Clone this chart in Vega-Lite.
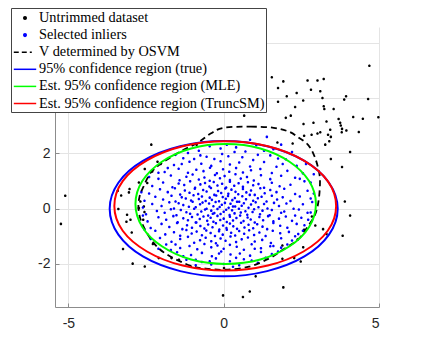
{
"$schema":"https://vega.github.io/schema/vega-lite/v6.json",
"width":324,"height":280,
"autosize":{"type":"none"},
"padding":{"left":55,"top":27,"right":44,"bottom":38},
"background":"white",
"config":{"view":{"stroke":null},"axis":{"labelFont":"Liberation Sans","labelFontSize":14,"labelColor":"#262626","gridColor":"#e4e4e4","gridWidth":1,"domainColor":"#8c8c8c","domainWidth":1,"tickColor":"#8c8c8c","title":null},
"legend":{"orient":"none","legendX":-44,"legendY":-19,"symbolSize":256,"symbolOffset":4,"labelOffset":5,"padding":1,"rowPadding":0.1,"fillColor":"white","strokeColor":"#444444","labelFont":"Liberation Serif","labelFontSize":14.3,"labelColor":"black","labelLimit":0}},
"datasets":{
"pts":[
{"x":-5.10,"y":0.47,"s":"u"},{"x":-5.24,"y":-0.55,"s":"u"},{"x":-3.41,"y":0.65,"s":"u"},{"x":-3.30,"y":0.48,"s":"u"},{"x":-3.03,"y":0.71,"s":"u"},{"x":-3.05,"y":0.59,"s":"u"},{"x":-3.39,"y":-0.01,"s":"u"},{"x":-3.11,"y":-0.22,"s":"u"},{"x":-3.00,"y":-0.40,"s":"u"},{"x":-3.13,"y":-0.47,"s":"u"},{"x":-2.96,"y":-0.86,"s":"u"},{"x":-3.24,"y":-1.46,"s":"u"},{"x":-2.93,"y":-1.99,"s":"u"},{"x":-2.73,"y":0.95,"s":"u"},{"x":-2.33,"y":2.32,"s":"u"},{"x":-2.03,"y":1.62,"s":"u"},{"x":-2.13,"y":1.70,"s":"u"},{"x":-2.30,"y":1.35,"s":"u"},{"x":-2.54,"y":1.44,"s":"u"},{"x":-2.46,"y":0.93,"s":"u"},{"x":-0.87,"y":2.32,"s":"u"},{"x":-2.68,"y":0.26,"s":"u"},{"x":-2.57,"y":0.08,"s":"u"},{"x":-2.54,"y":-2.09,"s":"u"},{"x":-2.73,"y":0.02,"s":"u"},{"x":-2.55,"y":-0.12,"s":"u"},{"x":-2.59,"y":-0.40,"s":"u"},{"x":-2.28,"y":-1.28,"s":"u"},{"x":-2.09,"y":-1.79,"s":"u"},{"x":-1.68,"y":-1.79,"s":"u"},{"x":-1.44,"y":-1.85,"s":"u"},{"x":-1.06,"y":-2.09,"s":"u"},
{"x":0.01,"y":-2.15,"s":"u"},{"x":1.03,"y":-2.45,"s":"u"},{"x":1.89,"y":-1.81,"s":"u"},{"x":2.27,"y":-1.79,"s":"u"},{"x":2.48,"y":-1.91,"s":"u"},{"x":2.56,"y":-1.40,"s":"u"},{"x":1.89,"y":-1.33,"s":"u"},{"x":2.95,"y":-0.61,"s":"u"},{"x":3.20,"y":-0.74,"s":"u"},{"x":3.31,"y":-0.92,"s":"u"},{"x":2.84,"y":-0.28,"s":"u"},{"x":2.59,"y":-0.76,"s":"u"},{"x":2.38,"y":-1.12,"s":"u"},{"x":-0.02,"y":-3.14,"s":"u"},{"x":0.62,"y":-3.20,"s":"u"},{"x":0.84,"y":-3.00,"s":"u"},{"x":1.92,"y":-2.85,"s":"u"},{"x":3.83,"y":-0.98,"s":"u"},{"x":4.07,"y":-0.25,"s":"u"},{"x":3.90,"y":0.26,"s":"u"},{"x":3.81,"y":1.51,"s":"u"},{"x":3.45,"y":1.80,"s":"u"},{"x":4.07,"y":2.05,"s":"u"},
{"x":4.69,"y":5.18,"s":"u"},{"x":3.22,"y":4.70,"s":"u"},{"x":3.02,"y":4.64,"s":"u"},{"x":2.70,"y":4.64,"s":"u"},{"x":2.81,"y":4.31,"s":"u"},{"x":3.11,"y":4.25,"s":"u"},{"x":2.35,"y":4.19,"s":"u"},{"x":1.92,"y":4.61,"s":"u"},{"x":2.03,"y":4.07,"s":"u"},{"x":3.18,"y":4.01,"s":"u"},{"x":3.94,"y":4.07,"s":"u"},{"x":3.88,"y":3.95,"s":"u"},{"x":4.65,"y":3.97,"s":"u"},{"x":2.56,"y":3.92,"s":"u"},{"x":2.30,"y":3.68,"s":"u"},{"x":3.22,"y":3.71,"s":"u"},{"x":3.24,"y":3.61,"s":"u"},{"x":3.54,"y":3.61,"s":"u"},{"x":2.16,"y":3.37,"s":"u"},{"x":2.00,"y":3.29,"s":"u"},{"x":4.98,"y":3.31,"s":"u"},{"x":4.17,"y":3.32,"s":"u"},{"x":4.48,"y":3.26,"s":"u"},{"x":3.70,"y":3.25,"s":"u"},{"x":3.75,"y":3.11,"s":"u"},{"x":3.77,"y":3.01,"s":"u"},{"x":3.81,"y":2.89,"s":"u"},{"x":3.95,"y":2.83,"s":"u"},{"x":3.80,"y":2.77,"s":"u"},{"x":4.35,"y":2.78,"s":"u"},{"x":3.31,"y":3.16,"s":"u"},{"x":2.89,"y":3.11,"s":"u"},{"x":2.57,"y":3.07,"s":"u"},{"x":3.11,"y":2.77,"s":"u"},{"x":3.02,"y":2.72,"s":"u"},{"x":2.83,"y":2.68,"s":"u"},{"x":2.59,"y":2.64,"s":"u"},{"x":3.36,"y":2.68,"s":"u"},{"x":3.45,"y":2.60,"s":"u"},{"x":3.40,"y":2.44,"s":"u"},{"x":3.27,"y":2.32,"s":"u"},{"x":2.22,"y":2.36,"s":"u"},{"x":1.55,"y":4.76,"s":"u"},{"x":1.75,"y":4.37,"s":"u"},{"x":1.75,"y":3.87,"s":"u"},{"x":3.43,"y":2.86,"s":"u"},{"x":0.66,"y":3.37,"s":"u"},{"x":1.73,"y":2.40,"s":"u"},
{"x":-2.6,"y":0.04,"s":"i"},{"x":-2.3,"y":0.17,"s":"i"},{"x":-2.0,"y":0.1,"s":"i"},{"x":-1.75,"y":0.23,"s":"i"},{"x":-1.6,"y":0.01,"s":"i"},{"x":-1.45,"y":0.2,"s":"i"},{"x":-1.3,"y":0.13,"s":"i"},{"x":-1.12,"y":0.07,"s":"i"},{"x":-1.0,"y":0.25,"s":"i"},{"x":-0.9,"y":0.05,"s":"i"},{"x":-0.76,"y":0.16,"s":"i"},{"x":-0.68,"y":0.22,"s":"i"},{"x":-0.55,"y":0.0,"s":"i"},{"x":-0.47,"y":0.19,"s":"i"},{"x":-0.33,"y":0.09,"s":"i"},{"x":-0.26,"y":0.24,"s":"i"},{"x":-0.13,"y":0.06,"s":"i"},{"x":-0.06,"y":0.14,"s":"i"},{"x":0.04,"y":0.21,"s":"i"},{"x":0.16,"y":0.03,"s":"i"},{"x":0.22,"y":0.18,"s":"i"},{"x":0.37,"y":0.08,"s":"i"},{"x":0.43,"y":0.25,"s":"i"},{"x":0.58,"y":0.11,"s":"i"},{"x":0.65,"y":0.2,"s":"i"},{"x":0.8,"y":0.03,"s":"i"},{"x":0.88,"y":0.15,"s":"i"},{"x":1.03,"y":0.23,"s":"i"},{"x":1.12,"y":0.05,"s":"i"},{"x":1.3,"y":0.17,"s":"i"},{"x":1.41,"y":0.01,"s":"i"},{"x":1.62,"y":0.21,"s":"i"},{"x":1.78,"y":0.1,"s":"i"},{"x":2.02,"y":0.19,"s":"i"},{"x":2.25,"y":0.0,"s":"i"},{"x":2.55,"y":0.16,"s":"i"},{"x":2.85,"y":0.24,"s":"i"},{"x":0.3,"y":0.08,"s":"i"},
{"x":-2.5,"y":-0.2,"s":"i"},{"x":-2.15,"y":-0.08,"s":"i"},{"x":-1.9,"y":-0.15,"s":"i"},{"x":-1.7,"y":-0.02,"s":"i"},{"x":-1.52,"y":-0.24,"s":"i"},{"x":-1.38,"y":-0.05,"s":"i"},{"x":-1.2,"y":-0.13,"s":"i"},{"x":-1.08,"y":-0.18,"s":"i"},{"x":-0.95,"y":0.0,"s":"i"},{"x":-0.84,"y":-0.21,"s":"i"},{"x":-0.72,"y":-0.1,"s":"i"},{"x":-0.6,"y":-0.03,"s":"i"},{"x":-0.5,"y":-0.25,"s":"i"},{"x":-0.4,"y":-0.07,"s":"i"},{"x":-0.3,"y":-0.16,"s":"i"},{"x":-0.2,"y":-0.01,"s":"i"},{"x":-0.1,"y":-0.19,"s":"i"},{"x":0.0,"y":-0.11,"s":"i"},{"x":0.08,"y":-0.04,"s":"i"},{"x":0.19,"y":-0.23,"s":"i"},{"x":0.27,"y":-0.06,"s":"i"},{"x":0.35,"y":-0.17,"s":"i"},{"x":0.49,"y":0.0,"s":"i"},{"x":0.55,"y":-0.14,"s":"i"},{"x":0.7,"y":-0.09,"s":"i"},{"x":0.76,"y":-0.22,"s":"i"},{"x":0.93,"y":-0.12,"s":"i"},{"x":0.98,"y":-0.02,"s":"i"},{"x":1.17,"y":-0.2,"s":"i"},{"x":1.25,"y":-0.07,"s":"i"},{"x":1.48,"y":-0.24,"s":"i"},{"x":1.55,"y":-0.05,"s":"i"},{"x":1.85,"y":-0.15,"s":"i"},{"x":1.95,"y":-0.1,"s":"i"},{"x":2.3,"y":-0.25,"s":"i"},{"x":2.42,"y":-0.03,"s":"i"},{"x":2.8,"y":-0.14,"s":"i"},{"x":-0.35,"y":-0.18,"s":"i"},
{"x":-2.55,"y":0.29,"s":"i"},{"x":-2.2,"y":0.43,"s":"i"},{"x":-1.95,"y":0.33,"s":"i"},{"x":-1.68,"y":0.47,"s":"i"},{"x":-1.55,"y":0.26,"s":"i"},{"x":-1.35,"y":0.41,"s":"i"},{"x":-1.22,"y":0.37,"s":"i"},{"x":-1.05,"y":0.3,"s":"i"},{"x":-0.97,"y":0.49,"s":"i"},{"x":-0.8,"y":0.35,"s":"i"},{"x":-0.7,"y":0.44,"s":"i"},{"x":-0.58,"y":0.28,"s":"i"},{"x":-0.45,"y":0.4,"s":"i"},{"x":-0.38,"y":0.32,"s":"i"},{"x":-0.24,"y":0.48,"s":"i"},{"x":-0.15,"y":0.27,"s":"i"},{"x":-0.03,"y":0.42,"s":"i"},{"x":0.07,"y":0.36,"s":"i"},{"x":0.14,"y":0.46,"s":"i"},{"x":0.28,"y":0.31,"s":"i"},{"x":0.36,"y":0.39,"s":"i"},{"x":0.5,"y":0.25,"s":"i"},{"x":0.6,"y":0.45,"s":"i"},{"x":0.72,"y":0.34,"s":"i"},{"x":0.84,"y":0.5,"s":"i"},{"x":0.95,"y":0.29,"s":"i"},{"x":1.1,"y":0.38,"s":"i"},{"x":1.22,"y":0.43,"s":"i"},{"x":1.38,"y":0.26,"s":"i"},{"x":1.55,"y":0.47,"s":"i"},{"x":1.72,"y":0.33,"s":"i"},{"x":1.9,"y":0.41,"s":"i"},{"x":2.15,"y":0.28,"s":"i"},{"x":2.45,"y":0.44,"s":"i"},{"x":2.8,"y":0.37,"s":"i"},
{"x":-2.45,"y":-0.46,"s":"i"},{"x":-2.1,"y":-0.31,"s":"i"},{"x":-1.85,"y":-0.4,"s":"i"},{"x":-1.62,"y":-0.27,"s":"i"},{"x":-1.48,"y":-0.49,"s":"i"},{"x":-1.3,"y":-0.35,"s":"i"},{"x":-1.15,"y":-0.42,"s":"i"},{"x":-1.02,"y":-0.3,"s":"i"},{"x":-0.9,"y":-0.5,"s":"i"},{"x":-0.77,"y":-0.37,"s":"i"},{"x":-0.65,"y":-0.28,"s":"i"},{"x":-0.53,"y":-0.44,"s":"i"},{"x":-0.42,"y":-0.33,"s":"i"},{"x":-0.33,"y":-0.47,"s":"i"},{"x":-0.2,"y":-0.26,"s":"i"},{"x":-0.11,"y":-0.41,"s":"i"},{"x":0.0,"y":-0.36,"s":"i"},{"x":0.1,"y":-0.48,"s":"i"},{"x":0.2,"y":-0.29,"s":"i"},{"x":0.3,"y":-0.43,"s":"i"},{"x":0.41,"y":-0.34,"s":"i"},{"x":0.53,"y":-0.25,"s":"i"},{"x":0.64,"y":-0.45,"s":"i"},{"x":0.77,"y":-0.32,"s":"i"},{"x":0.87,"y":-0.39,"s":"i"},{"x":1.0,"y":-0.5,"s":"i"},{"x":1.15,"y":-0.3,"s":"i"},{"x":1.27,"y":-0.42,"s":"i"},{"x":1.43,"y":-0.27,"s":"i"},{"x":1.6,"y":-0.46,"s":"i"},{"x":1.78,"y":-0.36,"s":"i"},{"x":2.0,"y":-0.28,"s":"i"},{"x":2.2,"y":-0.44,"s":"i"},{"x":2.5,"y":-0.33,"s":"i"},{"x":2.72,"y":-0.4,"s":"i"},
{"x":-2.4,"y":0.55,"s":"i"},{"x":-2.05,"y":0.7,"s":"i"},{"x":-1.8,"y":0.6,"s":"i"},{"x":-1.57,"y":0.74,"s":"i"},{"x":-1.4,"y":0.51,"s":"i"},{"x":-1.25,"y":0.66,"s":"i"},{"x":-1.1,"y":0.58,"s":"i"},{"x":-0.93,"y":0.72,"s":"i"},{"x":-0.82,"y":0.53,"s":"i"},{"x":-0.66,"y":0.68,"s":"i"},{"x":-0.55,"y":0.62,"s":"i"},{"x":-0.41,"y":0.75,"s":"i"},{"x":-0.3,"y":0.5,"s":"i"},{"x":-0.18,"y":0.64,"s":"i"},{"x":-0.08,"y":0.57,"s":"i"},{"x":0.05,"y":0.73,"s":"i"},{"x":0.15,"y":0.54,"s":"i"},{"x":0.25,"y":0.69,"s":"i"},{"x":0.38,"y":0.61,"s":"i"},{"x":0.47,"y":0.52,"s":"i"},{"x":0.62,"y":0.71,"s":"i"},{"x":0.73,"y":0.59,"s":"i"},{"x":0.88,"y":0.66,"s":"i"},{"x":1.0,"y":0.5,"s":"i"},{"x":1.18,"y":0.74,"s":"i"},{"x":1.32,"y":0.56,"s":"i"},{"x":1.5,"y":0.68,"s":"i"},{"x":1.7,"y":0.6,"s":"i"},{"x":1.95,"y":0.72,"s":"i"},{"x":2.3,"y":0.53,"s":"i"},{"x":2.7,"y":0.65,"s":"i"},
{"x":-2.35,"y":-0.7,"s":"i"},{"x":-2.0,"y":-0.55,"s":"i"},{"x":-1.75,"y":-0.66,"s":"i"},{"x":-1.5,"y":-0.52,"s":"i"},{"x":-1.33,"y":-0.74,"s":"i"},{"x":-1.18,"y":-0.6,"s":"i"},{"x":-1.02,"y":-0.69,"s":"i"},{"x":-0.88,"y":-0.5,"s":"i"},{"x":-0.75,"y":-0.63,"s":"i"},{"x":-0.62,"y":-0.72,"s":"i"},{"x":-0.5,"y":-0.57,"s":"i"},{"x":-0.36,"y":-0.67,"s":"i"},{"x":-0.25,"y":-0.53,"s":"i"},{"x":-0.14,"y":-0.75,"s":"i"},{"x":-0.02,"y":-0.61,"s":"i"},{"x":0.09,"y":-0.7,"s":"i"},{"x":0.2,"y":-0.54,"s":"i"},{"x":0.31,"y":-0.64,"s":"i"},{"x":0.43,"y":-0.73,"s":"i"},{"x":0.56,"y":-0.51,"s":"i"},{"x":0.67,"y":-0.68,"s":"i"},{"x":0.8,"y":-0.58,"s":"i"},{"x":0.95,"y":-0.71,"s":"i"},{"x":1.08,"y":-0.56,"s":"i"},{"x":1.25,"y":-0.65,"s":"i"},{"x":1.4,"y":-0.74,"s":"i"},{"x":1.6,"y":-0.52,"s":"i"},{"x":1.82,"y":-0.62,"s":"i"},{"x":2.05,"y":-0.69,"s":"i"},{"x":2.35,"y":-0.55,"s":"i"},{"x":2.6,"y":-0.6,"s":"i"},
{"x":-2.3,"y":0.82,"s":"i"},{"x":-1.95,"y":0.95,"s":"i"},{"x":-1.65,"y":0.78,"s":"i"},{"x":-1.45,"y":0.91,"s":"i"},{"x":-1.27,"y":0.86,"s":"i"},{"x":-1.08,"y":0.99,"s":"i"},{"x":-0.92,"y":0.76,"s":"i"},{"x":-0.75,"y":0.88,"s":"i"},{"x":-0.6,"y":0.93,"s":"i"},{"x":-0.46,"y":0.8,"s":"i"},{"x":-0.32,"y":0.97,"s":"i"},{"x":-0.2,"y":0.84,"s":"i"},{"x":-0.05,"y":0.9,"s":"i"},{"x":0.08,"y":0.77,"s":"i"},{"x":0.2,"y":0.98,"s":"i"},{"x":0.34,"y":0.83,"s":"i"},{"x":0.48,"y":0.92,"s":"i"},{"x":0.62,"y":0.79,"s":"i"},{"x":0.78,"y":0.96,"s":"i"},{"x":0.95,"y":0.85,"s":"i"},{"x":1.12,"y":0.89,"s":"i"},{"x":1.3,"y":0.76,"s":"i"},{"x":1.55,"y":0.94,"s":"i"},{"x":1.8,"y":0.81,"s":"i"},{"x":2.15,"y":0.87,"s":"i"},{"x":2.6,"y":0.99,"s":"i"},
{"x":-2.2,"y":-0.8,"s":"i"},{"x":-1.88,"y":-0.93,"s":"i"},{"x":-1.6,"y":-0.85,"s":"i"},{"x":-1.4,"y":-0.98,"s":"i"},{"x":-1.2,"y":-0.77,"s":"i"},{"x":-1.03,"y":-0.9,"s":"i"},{"x":-0.87,"y":-0.83,"s":"i"},{"x":-0.7,"y":-0.96,"s":"i"},{"x":-0.56,"y":-0.79,"s":"i"},{"x":-0.42,"y":-0.88,"s":"i"},{"x":-0.28,"y":-0.99,"s":"i"},{"x":-0.15,"y":-0.82,"s":"i"},{"x":-0.03,"y":-0.94,"s":"i"},{"x":0.1,"y":-0.76,"s":"i"},{"x":0.24,"y":-0.87,"s":"i"},{"x":0.37,"y":-0.97,"s":"i"},{"x":0.5,"y":-0.81,"s":"i"},{"x":0.66,"y":-0.91,"s":"i"},{"x":0.82,"y":-0.78,"s":"i"},{"x":0.98,"y":-0.95,"s":"i"},{"x":1.15,"y":-0.86,"s":"i"},{"x":1.35,"y":-0.99,"s":"i"},{"x":1.58,"y":-0.8,"s":"i"},{"x":1.82,"y":-0.89,"s":"i"},{"x":2.1,"y":-0.84,"s":"i"},{"x":2.4,"y":-0.92,"s":"i"},
{"x":-2.1,"y":1.08,"s":"i"},{"x":-1.7,"y":1.2,"s":"i"},{"x":-1.42,"y":1.03,"s":"i"},{"x":-1.2,"y":1.16,"s":"i"},{"x":-1.0,"y":1.24,"s":"i"},{"x":-0.8,"y":1.06,"s":"i"},{"x":-0.62,"y":1.13,"s":"i"},{"x":-0.45,"y":1.01,"s":"i"},{"x":-0.28,"y":1.22,"s":"i"},{"x":-0.12,"y":1.1,"s":"i"},{"x":0.03,"y":1.18,"s":"i"},{"x":0.2,"y":1.04,"s":"i"},{"x":0.38,"y":1.25,"s":"i"},{"x":0.55,"y":1.09,"s":"i"},{"x":0.75,"y":1.15,"s":"i"},{"x":0.97,"y":1.02,"s":"i"},{"x":1.2,"y":1.21,"s":"i"},{"x":1.5,"y":1.07,"s":"i"},{"x":1.85,"y":1.19,"s":"i"},{"x":2.3,"y":1.12,"s":"i"},
{"x":-2.05,"y":-1.06,"s":"i"},{"x":-1.68,"y":-1.2,"s":"i"},{"x":-1.4,"y":-1.1,"s":"i"},{"x":-1.15,"y":-1.02,"s":"i"},{"x":-0.95,"y":-1.23,"s":"i"},{"x":-0.76,"y":-1.14,"s":"i"},{"x":-0.58,"y":-1.05,"s":"i"},{"x":-0.4,"y":-1.18,"s":"i"},{"x":-0.25,"y":-1.25,"s":"i"},{"x":-0.1,"y":-1.08,"s":"i"},{"x":0.06,"y":-1.16,"s":"i"},{"x":0.22,"y":-1.01,"s":"i"},{"x":0.4,"y":-1.21,"s":"i"},{"x":0.58,"y":-1.11,"s":"i"},{"x":0.78,"y":-1.04,"s":"i"},{"x":1.0,"y":-1.19,"s":"i"},{"x":1.24,"y":-1.13,"s":"i"},{"x":1.52,"y":-1.24,"s":"i"},{"x":1.85,"y":-1.07,"s":"i"},{"x":2.2,"y":-1.15,"s":"i"},
{"x":-1.9,"y":1.33,"s":"i"},{"x":-1.45,"y":1.45,"s":"i"},{"x":-1.15,"y":1.3,"s":"i"},{"x":-0.88,"y":1.41,"s":"i"},{"x":-0.65,"y":1.36,"s":"i"},{"x":-0.44,"y":1.48,"s":"i"},{"x":-0.22,"y":1.28,"s":"i"},{"x":-0.02,"y":1.43,"s":"i"},{"x":0.18,"y":1.34,"s":"i"},{"x":0.4,"y":1.47,"s":"i"},{"x":0.62,"y":1.31,"s":"i"},{"x":0.88,"y":1.39,"s":"i"},{"x":1.18,"y":1.44,"s":"i"},{"x":1.55,"y":1.29,"s":"i"},{"x":2.05,"y":1.37,"s":"i"},
{"x":-1.85,"y":-1.3,"s":"i"},{"x":-1.4,"y":-1.42,"s":"i"},{"x":-1.1,"y":-1.35,"s":"i"},{"x":-0.85,"y":-1.47,"s":"i"},{"x":-0.62,"y":-1.28,"s":"i"},{"x":-0.4,"y":-1.4,"s":"i"},{"x":-0.2,"y":-1.33,"s":"i"},{"x":0.0,"y":-1.45,"s":"i"},{"x":0.2,"y":-1.31,"s":"i"},{"x":0.42,"y":-1.38,"s":"i"},{"x":0.65,"y":-1.49,"s":"i"},{"x":0.9,"y":-1.29,"s":"i"},{"x":1.2,"y":-1.43,"s":"i"},{"x":1.5,"y":-1.36,"s":"i"},{"x":1.85,"y":-1.41,"s":"i"},
{"x":-1.6,"y":1.58,"s":"i"},{"x":-1.1,"y":1.7,"s":"i"},{"x":-0.72,"y":1.63,"s":"i"},{"x":-0.4,"y":1.55,"s":"i"},{"x":-0.1,"y":1.72,"s":"i"},{"x":0.2,"y":1.6,"s":"i"},{"x":0.5,"y":1.67,"s":"i"},{"x":0.85,"y":1.53,"s":"i"},{"x":1.3,"y":1.69,"s":"i"},{"x":1.9,"y":1.62,"s":"i"},
{"x":-1.5,"y":-1.58,"s":"i"},{"x":-1.05,"y":-1.68,"s":"i"},{"x":-0.7,"y":-1.6,"s":"i"},{"x":-0.38,"y":-1.72,"s":"i"},{"x":-0.08,"y":-1.55,"s":"i"},{"x":0.22,"y":-1.66,"s":"i"},{"x":0.52,"y":-1.62,"s":"i"},{"x":0.85,"y":-1.7,"s":"i"},{"x":1.2,"y":-1.57,"s":"i"},{"x":1.55,"y":-1.64,"s":"i"},
{"x":-1.3,"y":1.83,"s":"i"},{"x":-0.75,"y":1.93,"s":"i"},{"x":-0.3,"y":1.8,"s":"i"},{"x":0.15,"y":1.9,"s":"i"},{"x":0.6,"y":1.86,"s":"i"},{"x":1.1,"y":1.95,"s":"i"},{"x":1.75,"y":1.82,"s":"i"},
{"x":-1.2,"y":-1.85,"s":"i"},{"x":-0.7,"y":-1.93,"s":"i"},{"x":-0.25,"y":-1.8,"s":"i"},{"x":0.2,"y":-1.9,"s":"i"},{"x":0.65,"y":-1.83,"s":"i"},{"x":1.1,"y":-1.96,"s":"i"},
{"x":-0.8,"y":2.1,"s":"i"},{"x":-0.1,"y":2.18,"s":"i"},{"x":0.7,"y":2.07,"s":"i"},{"x":1.6,"y":2.15,"s":"i"},{"x":0.1,"y":2.32,"s":"i"},{"x":1.39,"y":2.6,"s":"i"},{"x":-0.4,"y":-2.02,"s":"i"},{"x":0.5,"y":-2.05,"s":"i"},
{"x":-1.8,"y":1.47,"s":"i"},{"x":-1.35,"y":1.62,"s":"i"},{"x":-0.95,"y":1.8,"s":"i"},{"x":-0.55,"y":1.88,"s":"i"},{"x":-0.05,"y":1.98,"s":"i"},{"x":0.35,"y":2.05,"s":"i"},{"x":0.95,"y":1.76,"s":"i"},{"x":1.5,"y":1.93,"s":"i"},{"x":2.0,"y":1.79,"s":"i"},{"x":2.35,"y":1.55,"s":"i"},{"x":2.55,"y":1.28,"s":"i"},{"x":1.7,"y":1.52,"s":"i"},{"x":-1.55,"y":1.95,"s":"i"},{"x":0.4,"y":2.22,"s":"i"},{"x":1.05,"y":2.3,"s":"i"},{"x":-0.45,"y":2.26,"s":"i"},{"x":0.85,"y":2.5,"s":"i"},{"x":1.85,"y":2.32,"s":"i"},{"x":2.2,"y":2.05,"s":"i"},{"x":-1.15,"y":2.02,"s":"i"},{"x":1.3,"y":2.1,"s":"i"},{"x":2.65,"y":1.62,"s":"i"},{"x":2.8,"y":0.95,"s":"i"},{"x":2.9,"y":1.25,"s":"i"},{"x":2.45,"y":1.08,"s":"i"},
{"x":-2.1,"y":-1.45,"s":"i"},{"x":-1.7,"y":-1.5,"s":"i"},{"x":-1.3,"y":-1.72,"s":"i"},{"x":-0.9,"y":-1.85,"s":"i"},{"x":-0.45,"y":-1.9,"s":"i"},{"x":0.0,"y":-2.0,"s":"i"},{"x":0.4,"y":-1.78,"s":"i"},{"x":0.9,"y":-1.88,"s":"i"},{"x":1.35,"y":-1.78,"s":"i"},{"x":1.75,"y":-1.55,"s":"i"},{"x":2.05,"y":-1.3,"s":"i"},{"x":2.3,"y":-1.0,"s":"i"},{"x":-2.35,"y":-1.1,"s":"i"},{"x":-1.55,"y":-1.3,"s":"i"},{"x":1.0,"y":-1.45,"s":"i"},{"x":-0.15,"y":-1.62,"s":"i"},{"x":0.3,"y":-2.1,"s":"i"},{"x":-0.9,"y":-2.05,"s":"i"},{"x":1.6,"y":-1.35,"s":"i"},{"x":2.55,"y":-0.8,"s":"i"},{"x":-2.55,"y":-0.75,"s":"i"},{"x":-2.6,"y":-0.25,"s":"i"},{"x":2.7,"y":-0.15,"s":"i"},{"x":2.9,"y":0.55,"s":"i"},{"x":-2.65,"y":0.6,"s":"i"},{"x":-2.4,"y":1.15,"s":"i"},{"x":-2.1,"y":1.3,"s":"i"}
],
"curves":[
{"s":"v","i":0,"x":0,"y":2.93},{"s":"v","i":1,"x":0.87,"y":2.97},{"s":"v","i":2,"x":1.61,"y":2.93},{"s":"v","i":3,"x":2.1,"y":2.79},{"s":"v","i":4,"x":2.42,"y":2.57},{"s":"v","i":5,"x":2.71,"y":2.32},{"s":"v","i":6,"x":2.9,"y":1.96},{"s":"v","i":7,"x":3.03,"y":1.52},{"s":"v","i":8,"x":3.1,"y":1.05},{"s":"v","i":9,"x":3.06,"y":0.33},{"s":"v","i":10,"x":2.94,"y":-0.22},{"s":"v","i":11,"x":2.68,"y":-0.69},{"s":"v","i":12,"x":2.39,"y":-1.12},{"s":"v","i":13,"x":1.9,"y":-1.49},{"s":"v","i":14,"x":1.45,"y":-1.81},{"s":"v","i":15,"x":0.81,"y":-2.1},{"s":"v","i":16,"x":0.06,"y":-2.21},{"s":"v","i":17,"x":-0.58,"y":-2.17},{"s":"v","i":18,"x":-1.06,"y":-2.07},{"s":"v","i":19,"x":-1.81,"y":-1.67},{"s":"v","i":20,"x":-2.26,"y":-1.23},{"s":"v","i":21,"x":-2.61,"y":-0.58},{"s":"v","i":22,"x":-2.74,"y":-0.04},{"s":"v","i":23,"x":-2.71,"y":0.43},{"s":"v","i":24,"x":-2.58,"y":0.8},{"s":"v","i":25,"x":-2.35,"y":1.3},{"s":"v","i":26,"x":-1.97,"y":1.67},{"s":"v","i":27,"x":-1.39,"y":2.07},{"s":"v","i":28,"x":-0.84,"y":2.39},{"s":"v","i":29,"x":-0.42,"y":2.72},
{"s":"t","i":0,"x":3.67,"y":0},{"s":"t","i":1,"x":3.39,"y":0.94},{"s":"t","i":2,"x":2.6,"y":1.73},{"s":"t","i":3,"x":1.4,"y":2.26},{"s":"t","i":4,"x":0,"y":2.45},{"s":"t","i":5,"x":-1.4,"y":2.26},{"s":"t","i":6,"x":-2.6,"y":1.73},{"s":"t","i":7,"x":-3.39,"y":0.94},{"s":"t","i":8,"x":-3.67,"y":0},{"s":"t","i":9,"x":-3.39,"y":-0.94},{"s":"t","i":10,"x":-2.6,"y":-1.73},{"s":"t","i":11,"x":-1.4,"y":-2.26},{"s":"t","i":12,"x":0,"y":-2.45},{"s":"t","i":13,"x":1.4,"y":-2.26},{"s":"t","i":14,"x":2.6,"y":-1.73},{"s":"t","i":15,"x":3.39,"y":-0.94},
{"s":"m","i":0,"x":2.97,"y":0.17},{"s":"m","i":1,"x":2.75,"y":1.0},{"s":"m","i":2,"x":2.12,"y":1.7},{"s":"m","i":3,"x":1.18,"y":2.18},{"s":"m","i":4,"x":0.07,"y":2.34},{"s":"m","i":5,"x":-1.05,"y":2.18},{"s":"m","i":6,"x":-1.99,"y":1.7},{"s":"m","i":7,"x":-2.62,"y":1.0},{"s":"m","i":8,"x":-2.84,"y":0.17},{"s":"m","i":9,"x":-2.62,"y":-0.66},{"s":"m","i":10,"x":-1.99,"y":-1.36},{"s":"m","i":11,"x":-1.05,"y":-1.84},{"s":"m","i":12,"x":0.07,"y":-2.0},{"s":"m","i":13,"x":1.18,"y":-1.84},{"s":"m","i":14,"x":2.12,"y":-1.36},{"s":"m","i":15,"x":2.75,"y":-0.66},
{"s":"r","i":0,"x":3.62,"y":0.1},{"s":"r","i":1,"x":3.35,"y":1.0},{"s":"r","i":2,"x":2.57,"y":1.75},{"s":"r","i":3,"x":1.42,"y":2.26},{"s":"r","i":4,"x":0.05,"y":2.44},{"s":"r","i":5,"x":-1.32,"y":2.26},{"s":"r","i":6,"x":-2.47,"y":1.75},{"s":"r","i":7,"x":-3.25,"y":1.0},{"s":"r","i":8,"x":-3.52,"y":0.1},{"s":"r","i":9,"x":-3.25,"y":-0.8},{"s":"r","i":10,"x":-2.47,"y":-1.55},{"s":"r","i":11,"x":-1.32,"y":-2.06},{"s":"r","i":12,"x":0.05,"y":-2.24},{"s":"r","i":13,"x":1.42,"y":-2.06},{"s":"r","i":14,"x":2.57,"y":-1.55},{"s":"r","i":15,"x":3.35,"y":-0.8}
]
},
"encoding":{
"x":{"field":"x","type":"quantitative","scale":{"domain":[-5.43,5.0],"nice":false,"zero":false},"axis":{"values":[-5,0,5],"labelExpr":"toString(datum.value)","tickSize":-4,"labelPadding":13,"labelBaseline":"top"}},
"y":{"field":"y","type":"quantitative","scale":{"domain":[-3.56,6.58],"nice":false,"zero":false},"axis":{"values":[-2,0,2,4,6],"labelExpr":"datum.value>2?'':toString(datum.value)","tickSize":-4,"labelPadding":9}}
},
"layer":[
{"data":{"name":"pts"},
 "mark":{"type":"point","filled":true,"size":256,"strokeWidth":0,"opacity":1},
 "encoding":{
  "color":{"field":"s","type":"nominal","scale":{"domain":["u","i","v","t","m","r"],"range":["#000000","#0000ff","#000000","#0000ff","#00ff00","#ff0000"]},
   "legend":{"title":null,
   "labelExpr":"datum.value=='u'?'Untrimmed dataset':datum.value=='i'?'Selected inliers':datum.value=='v'?'V determined by OSVM':datum.value=='t'?'95% confidence region (true)':datum.value=='m'?'Est. 95% confidence region (MLE)':'Est. 95% confidence region (TruncSM)'",
   "encode":{"symbols":{"update":{"fill":{"scale":"color","field":"value"},"stroke":{"scale":"color","field":"value"},"strokeWidth":[{"test":"datum.value=='u'||datum.value=='i'","value":0},{"value":2}],"opacity":{"value":1}}}}}},
  "shape":{"field":"s","type":"nominal","scale":{"domain":["u","i","v","t","m","r"],"range":["M-0.16,0A0.16,0.16,0,1,0,0.16,0A0.16,0.16,0,1,0,-0.16,0Z","M-0.16,0A0.16,0.16,0,1,0,0.16,0A0.16,0.16,0,1,0,-0.16,0Z","M-1.4,0H-0.78M-0.4,0H0.22M0.6,0H0.85","M-1.4,0H1.4","M-1.4,0H1.4","M-1.4,0H1.4"]},
   "legend":{"title":null,
   "labelExpr":"datum.value=='u'?'Untrimmed dataset':datum.value=='i'?'Selected inliers':datum.value=='v'?'V determined by OSVM':datum.value=='t'?'95% confidence region (true)':datum.value=='m'?'Est. 95% confidence region (MLE)':'Est. 95% confidence region (TruncSM)'",
   "encode":{"symbols":{"update":{"fill":{"scale":"color","field":"value"},"stroke":{"scale":"color","field":"value"},"strokeWidth":[{"test":"datum.value=='u'||datum.value=='i'","value":0},{"value":2}],"opacity":{"value":1}}}}}}}},
{"data":{"name":"curves"},"transform":[{"filter":"datum.s=='v'"}],
 "mark":{"type":"line","interpolate":"cardinal-closed","strokeWidth":1.8,"strokeDash":[6,4]},
 "encoding":{"order":{"field":"i","type":"quantitative"},"color":{"field":"s","type":"nominal","legend":null}}},
{"data":{"name":"curves"},"transform":[{"filter":"datum.s=='t'"}],
 "mark":{"type":"line","interpolate":"cardinal-closed","strokeWidth":2},
 "encoding":{"order":{"field":"i","type":"quantitative"},"color":{"field":"s","type":"nominal","legend":null}}},
{"data":{"name":"curves"},"transform":[{"filter":"datum.s=='m'"}],
 "mark":{"type":"line","interpolate":"cardinal-closed","strokeWidth":2},
 "encoding":{"order":{"field":"i","type":"quantitative"},"color":{"field":"s","type":"nominal","legend":null}}},
{"data":{"name":"curves"},"transform":[{"filter":"datum.s=='r'"}],
 "mark":{"type":"line","interpolate":"cardinal-closed","strokeWidth":2},
 "encoding":{"order":{"field":"i","type":"quantitative"},"color":{"field":"s","type":"nominal","legend":null}}}
]
}
